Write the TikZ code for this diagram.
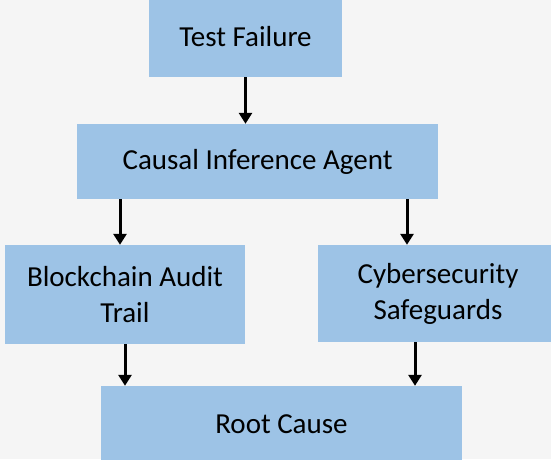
\documentclass[tikz,border=0pt]{standalone}
\usepackage{fontspec}
\setmainfont{Carlito}
\usepackage{tikz}
\usetikzlibrary{arrows.meta}

\definecolor{boxblue}{HTML}{9DC3E6}
\definecolor{pagegray}{HTML}{F5F5F5}

\begin{document}
\begin{tikzpicture}[x=1pt,y=-1pt,
  block/.style={fill=boxblue,inner sep=0pt,align=center,
    font=\fontsize{29}{36}\selectfont},
  flow/.style={line width=3pt,-{Triangle[width=13pt,length=11pt]}}]
\useasboundingbox (0,0) rectangle (551,459);
\clip (0,0) rectangle (551,459);
\fill[pagegray] (0,0) rectangle (551,459);
\node[block,minimum width=193pt,minimum height=80pt] (fail) at (245.5,37) {Test Failure}; % top box
\node[block,minimum width=361pt,minimum height=75pt] (agent) at (257.5,161.5) {Causal Inference Agent};
\node[block,minimum width=240pt,minimum height=99pt] (chain) at (125,294.5) {Blockchain Audit\\Trail};
\node[block,minimum width=240pt,minimum height=97pt] (cyber) at (438,293.5) {Cybersecurity\\Safeguards};
\node[block,minimum width=361pt,minimum height=76pt] (root) at (281.5,424) {Root Cause}; % runs off the bottom
\draw[flow] (fail.south) -- (fail.south |- agent.north);
\draw[flow] ([xshift=-137.5pt]agent.south) -- ([xshift=-5pt]chain.north);
\draw[flow] ([xshift=149.5pt]agent.south) -- ([xshift=-31pt]cyber.north);
\draw[flow] (chain.south) -- ([xshift=-156.5pt]root.north);
\draw[flow] ([xshift=-23pt]cyber.south) -- ([xshift=133.5pt]root.north);
\end{tikzpicture}
\end{document}
